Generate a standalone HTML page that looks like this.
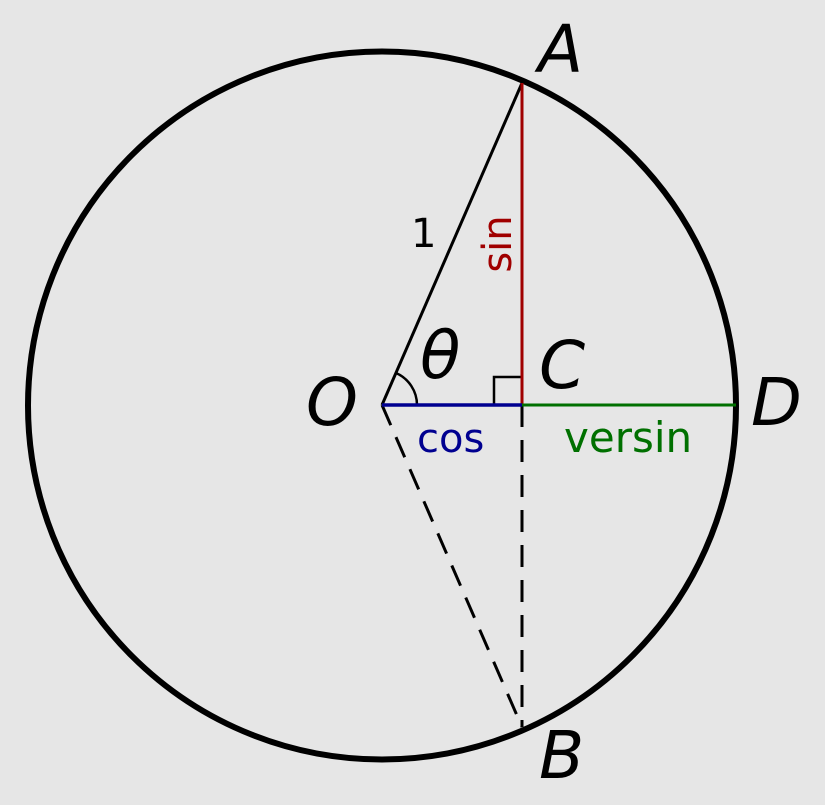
<!DOCTYPE html>
<html><head><style>html,body{margin:0;padding:0;background:#e6e6e6;}svg{display:block}</style></head>
<body>
<svg width="825" height="805" viewBox="0 0 825 805" xmlns="http://www.w3.org/2000/svg">
<rect width="825" height="805" fill="#e6e6e6"/>
<circle cx="382" cy="405.5" r="354" fill="none" stroke="#000" stroke-width="6"/>
<line x1="382" y1="405" x2="522" y2="83" stroke="#000" stroke-width="3"/>
<line x1="382" y1="405" x2="522" y2="727" stroke="#000" stroke-width="3" stroke-dasharray="22,13"/>
<line x1="522" y1="405" x2="522" y2="727" stroke="#000" stroke-width="3" stroke-dasharray="22,13"/>
<path d="M396 373 A35 35 0 0 1 417 405" fill="none" stroke="#000" stroke-width="2.5"/>
<path d="M494 405 V377 H522" fill="none" stroke="#000" stroke-width="2.5"/>
<line x1="522" y1="83" x2="522" y2="405" stroke="#a00000" stroke-width="3"/>
<line x1="382" y1="405" x2="522" y2="405" stroke="#000090" stroke-width="3.5"/>
<line x1="522" y1="405" x2="736" y2="405" stroke="#007000" stroke-width="3"/>
<g font-family="DejaVu Sans, Liberation Sans, sans-serif" font-style="italic" font-size="66" fill="#000">
<text x="538" y="72">A</text>
<text x="306" y="425">O</text>
<text x="539" y="388">C</text>
<text x="751" y="425">D</text>
<text x="539" y="778">B</text>
<text x="420" y="378">θ</text>
</g>
<g font-family="DejaVu Sans, Liberation Sans, sans-serif" font-size="40">
<text x="411" y="247" fill="#000">1</text>
<text x="417" y="452" fill="#000090">cos</text>
<text x="564" y="452" fill="#007000" font-size="42">versin</text>
<text transform="translate(511,244) rotate(-90)" text-anchor="middle" fill="#a00000">sin</text>
</g>
</svg>
</body></html>
